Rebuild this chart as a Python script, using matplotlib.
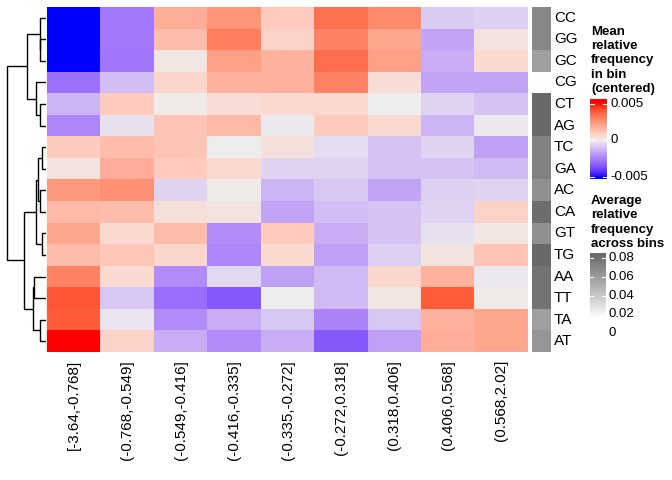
import numpy as np
import matplotlib
matplotlib.use("Agg")
import matplotlib.pyplot as plt
from matplotlib.colors import ListedColormap, Normalize

plt.rcParams['font.family'] = ['Liberation Sans', 'DejaVu Sans']

# ---------------- data ----------------
ROWS = ["CC", "GG", "GC", "CG", "CT", "AG", "TC", "GA",
        "AC", "CA", "GT", "TG", "AA", "TT", "TA", "AT"]
BINS = ["[-3.64,-0.768]", "(-0.768,-0.549]", "(-0.549,-0.416]",
        "(-0.416,-0.335]", "(-0.335,-0.272]", "(-0.272,0.318]",
        "(0.318,0.406]", "(0.406,0.568]", "(0.568,2.02]"]

# mean relative frequency in bin (centered), x 1e-3
CC_ROW = [-6.5, -2.7, 1.8, 2.5, 1.0, 3.4, 2.8, -0.8, -0.7]
GG_ROW = [-6.5, -2.7, 1.4, 3.1, 0.8, 3.0, 2.0, -1.7, 0.3]
GC_ROW = [-6.5, -2.8, 0.2, 2.2, 1.7, 3.5, 2.2, -1.5, 0.6]
CG_ROW = [-2.9, -1.1, 0.7, 1.7, 1.7, 3.0, 0.5, -1.7, -1.7]
CT_ROW = [-1.3, 1.0, 0.1, 0.5, 0.6, 0.6, 0.0, -0.6, -1.0]
AG_ROW = [-2.4, -0.3, 1.2, 1.5, -0.1, 1.0, 0.6, -1.3, -0.1]
TC_ROW = [1.0, 1.4, 1.2, 0.0, 0.4, -0.4, -1.0, -0.6, -1.8]
GA_ROW = [0.3, 1.8, 1.0, 0.6, -0.6, -0.6, -1.0, -1.0, -1.2]
AC_ROW = [2.4, 2.6, -0.6, 0.1, -1.3, -0.9, -1.7, -0.7, -0.6]
CA_ROW = [1.5, 1.4, 0.4, 0.3, -1.7, -1.1, -1.0, -0.6, 0.8]
GT_ROW = [2.0, 0.6, 1.4, -2.3, 1.0, -1.5, -1.0, -0.3, 0.2]
TG_ROW = [1.4, 1.1, 0.7, -2.4, 0.6, -1.8, -0.7, 0.3, 1.2]
AA_ROW = [3.0, 0.6, -2.3, -0.5, -1.8, -1.2, 0.7, 1.7, -0.1]
TT_ROW = [4.0, -0.9, -3.0, -3.5, 0.0, -1.2, 0.2, 3.9, 0.1]
TA_ROW = [3.9, -0.2, -2.3, -1.5, -0.9, -2.5, -0.9, 1.7, 2.0]
AT_ROW = [5.2, 0.8, -1.5, -2.3, -1.5, -3.5, -1.8, 1.8, 2.0]

# average relative frequency across bins
AVG_FREQ = [0.0696, 0.0696, 0.058, 0.016, 0.084, 0.084, 0.072, 0.072,
            0.0648, 0.0818, 0.0648, 0.084, 0.0793, 0.0793, 0.058, 0.0625]

# row dendrogram merges: (left, right, height)
MERGES = [
    ("GG", "GC", 6.0),     # 0
    ("CC", 0, 6.7),        # 1
    ("CT", "AG", 6.7),     # 2
    ("CG", 2, 10.0),       # 3
    (1, 3, 19.3),          # 4
    ("TC", "GA", 4.7),     # 5
    ("AC", "CA", 6.0),     # 6
    (5, 6, 8.7),           # 7
    ("GT", "TG", 4.3),     # 8
    (7, 8, 10.0),          # 9
    ("AA", "TT", 12.7),    # 10
    ("TA", "AT", 6.7),     # 11
    (10, 11, 13.7),        # 12
    (9, 12, 22.0),         # 13
    (4, 13, 39.3),         # 14
]

HEAT_TICKS = [-0.005, 0, 0.005]
HEAT_TICK_LABELS = ["-0.005", "0", "0.005"]
AVG_TICKS = [0, 0.02, 0.04, 0.06, 0.08]
AVG_TICK_LABELS = ["0", "0.02", "0.04", "0.06", "0.08"]
TITLE1 = ["Mean", "relative", "frequency", "in bin", "(centered)"]
TITLE2 = ["Average", "relative", "frequency", "across bins"]

HEAT = np.array([CC_ROW, GG_ROW, GC_ROW, CG_ROW, CT_ROW, AG_ROW, TC_ROW, GA_ROW,
                 AC_ROW, CA_ROW, GT_ROW, TG_ROW, AA_ROW, TT_ROW, TA_ROW, AT_ROW]) * 1e-3


# ---------------- LAB colour interpolation ----------------
def srgb_to_lab(rgb):
    rgb = np.asarray(rgb, float)
    lin = np.where(rgb <= 0.04045, rgb / 12.92, ((rgb + 0.055) / 1.055) ** 2.4)
    M = np.array([[0.4124, 0.3576, 0.1805],
                  [0.2126, 0.7152, 0.0722],
                  [0.0193, 0.1192, 0.9505]])
    xyz = lin @ M.T / np.array([0.95047, 1.0, 1.08883])
    f = np.where(xyz > 0.008856, np.cbrt(xyz), 7.787 * xyz + 16 / 116)
    L = 116 * f[..., 1] - 16
    a = 500 * (f[..., 0] - f[..., 1])
    b = 200 * (f[..., 1] - f[..., 2])
    return np.stack([L, a, b], -1)


def lab_to_srgb(lab):
    lab = np.asarray(lab, float)
    fy = (lab[..., 0] + 16) / 116
    fx = fy + lab[..., 1] / 500
    fz = fy - lab[..., 2] / 200
    f = np.stack([fx, fy, fz], -1)
    xyz = np.where(f ** 3 > 0.008856, f ** 3, (f - 16 / 116) / 7.787)
    xyz = xyz * np.array([0.95047, 1.0, 1.08883])
    Minv = np.array([[3.2406, -1.5372, -0.4986],
                     [-0.9689, 1.8758, 0.0415],
                     [0.0557, -0.2040, 1.0570]])
    lin = np.clip(xyz @ Minv.T, 0, 1)
    rgb = np.where(lin <= 0.0031308, 12.92 * lin, 1.055 * lin ** (1 / 2.4) - 0.055)
    return np.clip(rgb, 0, 1)


def lab_ramp(colors, n=256):
    labs = srgb_to_lab(np.array(colors))
    pos = np.linspace(0, 1, len(colors))
    t = np.linspace(0, 1, n)
    out = np.stack([np.interp(t, pos, labs[:, k]) for k in range(3)], -1)
    return ListedColormap(lab_to_srgb(out))


heat_cmap = lab_ramp([(0, 0, 1), (238 / 255,) * 3, (1, 0, 0)])
grey_cmap = lab_ramp([(1, 1, 1), (102 / 255,) * 3])
heat_norm = Normalize(-0.005, 0.005)
grey_norm = Normalize(0.016, 0.0857)

# ---------------- figure layout (pixel helpers) ----------------
W, H = 672, 480
fig = plt.figure(figsize=(W / 100, H / 100), dpi=100)


def ax_px(x0, y0, x1, y1):
    ax = fig.add_axes([x0 / W, 1 - y1 / H, (x1 - x0) / W, (y1 - y0) / H])
    ax.set_axis_off()
    return ax


def text_px(x, y, s, **kw):
    fig.text(x / W, 1 - y / H, s, **kw)


HM_X0, HM_X1, HM_Y0, HM_Y1 = 47, 528, 7, 352

# heatmap
ax = ax_px(HM_X0, HM_Y0, HM_X1, HM_Y1)
ax.imshow(HEAT, cmap=heat_cmap, norm=heat_norm, aspect='auto', interpolation='nearest')
ax.set_xlim(-0.5, len(BINS) - 0.5)
ax.set_ylim(len(ROWS) - 0.5, -0.5)
for j, lab in enumerate(BINS):
    ax.text(j, len(ROWS) - 0.5 + 0.37, lab, rotation=90, ha='center', va='top',
            fontsize=11, color='black', clip_on=False)

# annotation column
axa = ax_px(532.3, HM_Y0, 551, HM_Y1)
axa.imshow(np.array(AVG_FREQ)[:, None], cmap=grey_cmap, norm=grey_norm,
           aspect='auto', interpolation='nearest')
axa.set_ylim(len(ROWS) - 0.5, -0.5)
for i, lab in enumerate(ROWS):
    axa.text(1.16, i, lab, transform=axa.get_yaxis_transform(), ha='left',
             va='center', fontsize=11, color='black', clip_on=False)

# dendrogram
axd = ax_px(0, HM_Y0, 46.3, HM_Y1)
axd.set_ylim(len(ROWS) - 0.5, -0.5)
axd.set_xlim(46.3, 0)
pos = {name: (float(i), 0.0) for i, name in enumerate(ROWS)}
for k, (l, r, h) in enumerate(MERGES):
    yl, hl = pos[l]
    yr, hr = pos[r]
    axd.plot([hl, h, h, hr], [yl, yl, yr, yr], color='black', lw=1.0,
             solid_joinstyle='miter', solid_capstyle='butt')
    pos[k] = ((yl + yr) / 2, h)

# legend 1: heatmap colour bar
for i, line in enumerate(TITLE1):
    text_px(591, 35 + i * 14.2, line, fontsize=9.5, fontweight='bold',
            va='baseline', ha='left')
axl = ax_px(590, 99.3, 606.7, 179)
axl.set_ylim(-0.0053, 0.0056)
axl.set_xlim(0, 1)
grad = np.linspace(-0.0053, 0.0056, 300)[:, None]
axl.imshow(grad, cmap=heat_cmap, norm=heat_norm, aspect='auto', origin='lower',
           extent=[0, 1, -0.0053, 0.0056], interpolation='bilinear')
for t, lab in zip(HEAT_TICKS, HEAT_TICK_LABELS):
    axl.plot([0, 0.22], [t, t], color='white', lw=0.8)
    axl.plot([0.78, 1], [t, t], color='white', lw=0.8)
    axl.text(1.2, t, lab, transform=axl.get_yaxis_transform(), ha='left',
             va='center', fontsize=9.5, clip_on=False)

# legend 2: average frequency bar
for i, line in enumerate(TITLE2):
    text_px(591, 204.3 + i * 14.1, line, fontsize=9.5, fontweight='bold',
            va='baseline', ha='left')
axg = ax_px(590, 252.7, 605.7, 333)
axg.set_ylim(0, 0.0857)
axg.set_xlim(0, 1)
gg = np.linspace(0.016, 0.0857, 300)[:, None]
axg.imshow(gg, cmap=grey_cmap, norm=grey_norm, aspect='auto', origin='lower',
           extent=[0, 1, 0.016, 0.0857], interpolation='bilinear')
for t, lab in zip(AVG_TICKS, AVG_TICK_LABELS):
    if t >= 0.016:
        axg.plot([0, 0.22], [t, t], color='white', lw=0.8)
        axg.plot([0.78, 1], [t, t], color='white', lw=0.8)
    axg.text(1.2, t, lab, transform=axg.get_yaxis_transform(), ha='left',
             va='center', fontsize=9.5, clip_on=False)

fig.savefig("out.png", dpi=100)
